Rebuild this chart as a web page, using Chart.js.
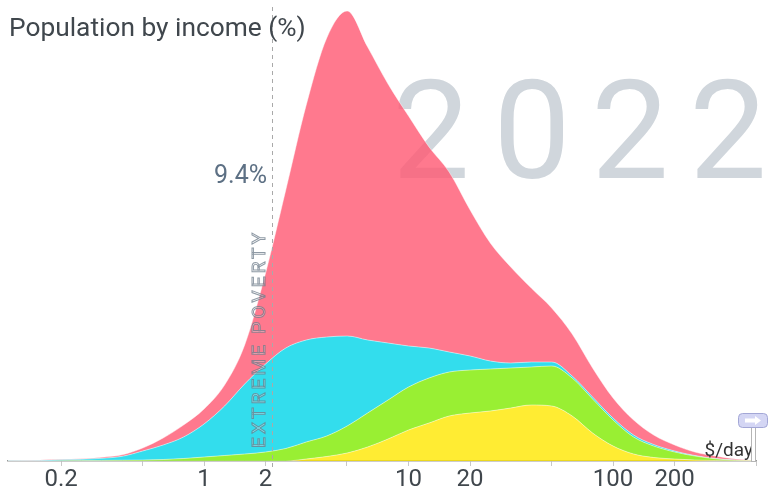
<!DOCTYPE html>
<html>
<head>
<meta charset="utf-8">
<script src="https://cdn.jsdelivr.net/npm/chart.js@4.4.1/dist/chart.umd.min.js"></script>
<style>
html, body { margin: 0; padding: 0; background: #fff; }
canvas { display: block; }
</style>
</head>
<body>
<canvas id="incomeChart" width="772" height="489"></canvas>
<script>
// income levels ($/day), log spaced
const incomes = [0.1, 0.126, 0.158, 0.2, 0.251, 0.316, 0.398, 0.501, 0.631, 0.794,
    1, 1.26, 1.58, 2, 2.51, 3.16, 3.98, 5.01, 6.31, 7.94,
    10, 12.6, 15.8, 20, 25.1, 31.6, 39.8, 50.1, 63.1, 79.4,
    100, 126, 158, 200, 251, 316, 398, 500];

// stacked bottom to top
const yellowSeries = [0, 0, 0, 0, 0, 0, 0, 0, 0, 0,
    0, 0, 0, 0, 0, 0.2, 0.45, 0.8, 1.4, 2.2,
    3.1, 3.8, 4.5, 4.8, 5.0, 5.3, 5.6, 5.5, 4.5, 2.8,
    1.5, 0.7, 0.35, 0.2, 0.1, 0.05, 0.02, 0];
const greenSeries = [0, 0, 0, 0.02, 0.04, 0.06, 0.08, 0.1, 0.15, 0.25,
    0.4, 0.55, 0.7, 0.9, 1.25, 1.7, 2.05, 2.7, 3.4, 3.9,
    4.3, 4.5, 4.4, 4.3, 4.2, 4.0, 3.8, 4.0, 3.8, 3.4,
    2.6, 1.7, 1.15, 0.7, 0.4, 0.17, 0.05, 0.02];
const cyanSeries = [0.01, 0.02, 0.05, 0.1, 0.13, 0.21, 0.39, 0.9, 1.45, 2.15,
    3.3, 4.95, 7.0, 8.8, 10.05, 10.2, 9.9, 9.0, 7.3, 5.7,
    4.1, 3.0, 2.0, 1.4, 0.8, 0.5, 0.5, 0.4, 0.2, 0.2,
    0.2, 0.2, 0.15, 0.1, 0.05, 0.03, 0.03, 0.01];
const pinkSeries = [0.02, 0.03, 0.05, 0.05, 0.05, 0.1, 0.15, 0.3, 0.7, 1.2,
    1.5, 2.1, 3.9, 9.1, 15.8, 23.5, 29.9, 32.5, 29.3, 25.9,
    23.0, 20.1, 18.0, 14.6, 11.8, 9.6, 7.4, 5.4, 4.2, 2.9,
    2.0, 1.5, 0.95, 0.6, 0.35, 0.25, 0.1, 0.02];

const tickValues = [0.2, 0.5, 1, 2, 5, 10, 20, 50, 100, 200, 500];
const tickLabels = ['0.2', '', '1', '2', '', '10', '20', '', '100', '200', ''];

const povertyLine = 2.15;
const povertyShare = 9.4;
const yearLabel = '2022';

function makeSeries(values, color, fill) {
    return {
        data: values.map((v, i) => ({ x: incomes[i], y: v })),
        backgroundColor: color,
        borderColor: 'rgba(255,255,255,0.45)',
        borderWidth: 1,
        fill: fill,
        pointRadius: 0,
        cubicInterpolationMode: 'monotone'
    };
}

const textLayer = {
    id: 'textLayer',
    beforeDatasetsDraw(chart) {
        const c = chart.ctx;
        c.save();
        c.fillStyle = '#d0d6dc';
        c.font = '400 138px Roboto';
        c.textAlign = 'center';
        c.textBaseline = 'alphabetic';
        const yearX = [431, 532, 630, 728];
        yearLabel.split('').forEach((ch, i) => c.fillText(ch, yearX[i], 178));
        c.restore();
    },
    afterDatasetsDraw(chart) {
        const c = chart.ctx;
        const px = Math.round(chart.scales.x.getPixelForValue(povertyLine)) + 0.5;

        // poverty line
        c.save();
        c.strokeStyle = '#a9a9a9';
        c.lineWidth = 1;
        c.setLineDash([4, 4]);
        c.beginPath();
        c.moveTo(px, 7);
        c.lineTo(px, 470);
        c.stroke();
        c.restore();

        // EXTREME POVERTY
        c.save();
        c.translate(px - 8, 448);
        c.rotate(-Math.PI / 2);
        c.font = '19px Roboto';
        const label = 'EXTREME POVERTY';
        const w0 = c.measureText(label).width;
        c.letterSpacing = ((215 - w0) / (label.length - 1)).toFixed(2) + 'px';
        c.textAlign = 'left';
        c.textBaseline = 'alphabetic';
        c.fillStyle = 'rgba(255,255,255,0.35)';
        c.fillText(label, 0, 0);
        c.strokeStyle = 'rgba(105,120,135,0.75)';
        c.lineWidth = 1;
        c.strokeText(label, 0, 0);
        c.restore();

        c.save();
        c.font = '25px Roboto';
        c.fillStyle = '#5d7084';
        c.textAlign = 'right';
        c.fillText(povertyShare + '%', 267, 183);

        // title
        const title = 'Population by income (%)';
        c.font = '26px Roboto';
        const tw = c.measureText(title).width;
        c.font = (26 * 297 / tw).toFixed(1) + 'px Roboto';
        c.fillStyle = '#40474d';
        c.textAlign = 'left';
        c.fillText(title, 9, 36);

        c.font = '19px Roboto';
        c.fillStyle = '#333';
        c.textAlign = 'right';
        c.fillText('$/day', 753, 456);

        // slider handle
        c.fillStyle = '#fff';
        c.strokeStyle = '#b5b5b5';
        c.lineWidth = 1;
        c.fillRect(751.5, 427.5, 4, 34);
        c.strokeRect(751.5, 427.5, 4, 34);
        c.beginPath();
        c.roundRect(738.5, 413.5, 29, 14, 4);
        c.fillStyle = '#d4d6f4';
        c.fill();
        c.strokeStyle = '#a3a7d6';
        c.stroke();
        c.fillStyle = '#fff';
        c.beginPath();
        c.moveTo(745, 418.5);
        c.lineTo(755, 418.5);
        c.lineTo(755, 416);
        c.lineTo(761, 420.5);
        c.lineTo(755, 425);
        c.lineTo(755, 422.5);
        c.lineTo(745, 422.5);
        c.closePath();
        c.fill();
        c.restore();
    }
};

const ctx = document.getElementById('incomeChart').getContext('2d');

const mountainChart = new Chart(ctx, {
    type: 'line',
    data: {
        datasets: [
            makeSeries(yellowSeries, 'rgba(255,231,0,0.8)', 'origin'),
            makeSeries(greenSeries, 'rgba(127,235,0,0.8)', '-1'),
            makeSeries(cyanSeries, 'rgba(0,213,233,0.8)', '-1'),
            makeSeries(pinkSeries, 'rgba(255,88,114,0.8)', '-1')
        ]
    },
    options: {
        responsive: false,
        animation: false,
        layout: {
            padding: { left: 8, right: 16, top: 0, bottom: 0 }
        },
        scales: {
            x: {
                type: 'logarithmic',
                min: 0.11,
                max: 500,
                afterFit: scale => { scale.height = 28; },
                afterBuildTicks: scale => {
                    scale.ticks = tickValues.map(v => ({ value: v }));
                },
                ticks: {
                    autoSkip: false,
                    maxRotation: 0,
                    padding: 0,
                    color: '#40474d',
                    font: { family: 'Roboto', size: 24 },
                    callback: value => tickLabels[tickValues.indexOf(value)]
                },
                grid: {
                    drawOnChartArea: false,
                    tickLength: 5,
                    color: '#c8c8c8'
                },
                border: { color: '#999', width: 1.5 }
            },
            y: {
                display: false,
                stacked: true,
                min: 0,
                max: 46.1
            }
        },
        plugins: {
            legend: { display: false },
            tooltip: { enabled: false }
        }
    },
    plugins: [textLayer]
});
</script>
</body>
</html>
